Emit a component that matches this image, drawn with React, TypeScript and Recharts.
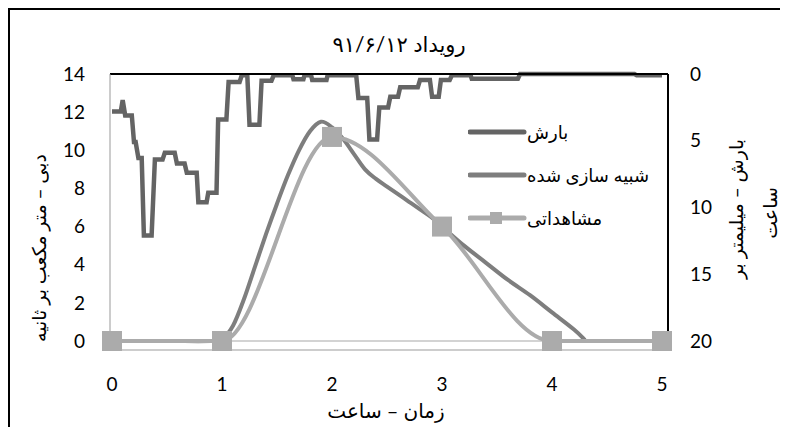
import { LineChart, Line, XAxis, YAxis, ReferenceLine, Legend } from 'recharts'

// بارش (mm/h, right axis, inverted) — [hour, value]
const rainTimes = [
  0, 0.08, 0.097, 0.12, 0.18, 0.2, 0.215, 0.24, 0.27, 0.29, 0.36, 0.39, 0.46, 0.48, 0.57, 0.59, 0.66, 0.68, 0.77,
  0.785, 0.86, 0.875, 0.95, 0.965, 1.04, 1.06, 1.16, 1.18, 1.23, 1.25, 1.34, 1.36, 1.45, 1.47, 1.64, 1.65, 1.74,
  1.75, 1.81, 1.82, 1.95, 1.96, 2.22, 2.24, 2.32, 2.34, 2.41, 2.43, 2.51, 2.53, 2.6, 2.62, 2.78, 2.8, 2.89, 2.91,
  2.97, 2.99, 3.07, 3.09, 3.26, 3.27, 3.69, 3.71, 4.75, 4.77, 5,
]
const rainValues = [
  2.8, 2.8, 1.95, 3.1, 3.1, 5.1, 5.1, 6.3, 6.3, 12.1, 12.1, 6.4, 6.4, 5.9, 5.9, 6.7, 6.7, 7.4, 7.4,
  9.6, 9.6, 8.9, 8.9, 3.4, 3.4, 0.6, 0.6, 0.1, 0.1, 3.8, 3.8, 0.5, 0.5, 0.1, 0.1, 0.4, 0.4,
  0.1, 0.1, 0.45, 0.45, 0.1, 0.1, 1.8, 1.8, 4.9, 4.9, 2.5, 2.5, 1.7, 1.7, 1.0, 1.0, 0.45, 0.45, 1.7,
  1.7, 0.45, 0.45, 0.1, 0.1, 0.35, 0.35, 0, 0, 0.1, 0.1,
]

// شبیه سازی شده (m3/s)
const simTimes = [
  0, 0.5, 0.9, 1.0, 1.1, 1.2, 1.3, 1.4, 1.5, 1.6, 1.7, 1.8, 1.9, 2.0, 2.1, 2.2, 2.3, 2.4, 2.5, 2.6, 2.7, 2.8, 2.9,
  3.0, 3.2, 3.4, 3.6, 3.8, 4.0, 4.2, 4.3, 4.5, 4.85, 5,
]
const simValues = [
  0, 0, 0, 0.1, 0.8, 2.2, 3.9, 5.6, 7.2, 8.7, 10.0, 11.0, 11.5, 11.2, 10.6, 9.8, 9.0, 8.5, 8.1, 7.7, 7.3, 6.9, 6.5,
  6.0, 5.0, 4.1, 3.2, 2.4, 1.5, 0.6, 0.05, null, 0, 0,
]

// مشاهداتی (m3/s)
const obsTimes = [0, 1, 2, 3, 4, 5]
const obsValues = [0, 0, 10.7, 6.0, 0, 0]

const xTicks = [0, 1, 2, 3, 4, 5]
const flowTicks = [0, 2, 4, 6, 8, 10, 12, 14]
const rainTicks = [0, 5, 10, 15, 20]

const rainData = rainTimes.map((t, i) => ({ t, rain: rainValues[i] }))
const simData = simTimes.map((t, i) => ({ t, sim: simValues[i] }))
const obsData = obsTimes.map((t, i) => ({ t, obs: obsValues[i] }))

const RAIN = '#646464'
const SIM = '#7e7e7e'
const OBS = '#ababab'
const FONT = "Lato, 'DejaVu Sans', sans-serif"

// Excel-like smoothed line (uniform Catmull-Rom as bezier)
const smooth = (context: any) => {
  let pts: number[][] = []
  return {
    areaStart() {},
    areaEnd() {},
    lineStart() {
      pts = []
    },
    point(x: number, y: number) {
      pts.push([+x, +y])
    },
    lineEnd() {
      const n = pts.length
      if (!n) return
      context.moveTo(pts[0][0], pts[0][1])
      for (let i = 0; i < n - 1; i++) {
        const p0 = pts[Math.max(i - 1, 0)]
        const p1 = pts[i]
        const p2 = pts[i + 1]
        const p3 = pts[Math.min(i + 2, n - 1)]
        context.bezierCurveTo(
          p1[0] + (p2[0] - p0[0]) / 6,
          p1[1] + (p2[1] - p0[1]) / 6,
          p2[0] - (p3[0] - p1[0]) / 6,
          p2[1] - (p3[1] - p1[1]) / 6,
          p2[0],
          p2[1],
        )
      }
    },
  }
}

const SquareDot = (props: any) => {
  const { cx, cy } = props
  if (cx == null || cy == null) return null
  return <rect x={cx - 10} y={cy - 10} width={20} height={20} fill={OBS} />
}

const legendItems = [
  { name: 'بارش', color: RAIN, marker: false },
  { name: 'شبیه سازی شده', color: SIM, marker: false },
  { name: 'مشاهداتی', color: OBS, marker: true },
]

const ChartLegend = () => (
  <div style={{ fontFamily: FONT, fontSize: 18, textAlign: 'left' }}>
    {legendItems.map((d) => (
      <div key={d.name} style={{ display: 'flex', justifyContent: 'flex-start', alignItems: 'center', height: 43 }}>
        <svg width={59} height={16} style={{ flex: 'none' }}>
          <line x1={2} y1={8} x2={56} y2={8} stroke={d.color} strokeWidth={5} strokeLinecap="round" />
          {d.marker && <rect x={22} y={2} width={12} height={12} fill={d.color} />}
        </svg>
        <span style={{ color: '#000', direction: 'rtl', unicodeBidi: 'isolate' }}>{d.name}</span>
      </div>
    ))}
  </div>
)

export default function App() {
  return (
    <div style={{ position: 'relative', width: 778, height: 417, borderLeft: '2px solid #000', borderTop: '2px solid #000', background: '#fff' }}>
      <div style={{ position: 'absolute', left: 0, top: 21, width: 778, textAlign: 'center', fontFamily: FONT, fontSize: 21, direction: 'rtl' }}>
        {'رویداد ۹۱/۶/۱۲'}
      </div>
      <LineChart width={778} height={417} margin={{ top: 64, right: 60, bottom: 27, left: 40 }}>
        <XAxis
          dataKey="t"
          type="number"
          domain={[0, 5]}
          ticks={xTicks}
          padding={{ left: 2, right: 6 }}
          allowDuplicatedCategory={false}
          height={50}
          tickLine={false}
          tickMargin={22}
          axisLine={{ stroke: '#bdbdbd', strokeWidth: 1.5 }}
          tick={{ fill: '#000', fontSize: 19, fontFamily: FONT }}
          label={{
            content: () => (
              <text x={376} y={400} textAnchor="middle" dominantBaseline="central" fontSize={20} fontFamily={FONT}>
                {'زمان – ساعت'}
              </text>
            ),
          }}
        />
        <YAxis
          yAxisId="flow"
          domain={[0, 14]}
          ticks={flowTicks}
          padding={{ top: 0, bottom: 9 }}
          width={60}
          tickLine={false}
          tickMargin={19}
          axisLine={{ stroke: '#999', strokeWidth: 1 }}
          tick={{ fill: '#000', fontSize: 19, fontFamily: FONT }}
          label={{
            content: () => (
              <text x={28} y={238} transform="rotate(-90 28 238)" textAnchor="middle" dominantBaseline="central" fontSize={19} fontFamily={FONT}>
                {'دبی – متر مکعب بر ثانیه'}
              </text>
            ),
          }}
        />
        <YAxis
          yAxisId="rain"
          orientation="right"
          reversed
          domain={[0, 20]}
          ticks={rainTicks}
          padding={{ top: 0, bottom: 9 }}
          width={60}
          tickLine={false}
          tickMargin={16}
          axisLine={{ stroke: '#000', strokeWidth: 2 }}
          tick={{ fill: '#000', fontSize: 19, fontFamily: FONT }}
          label={{
            content: () => (
              <g fontSize={19} fontFamily={FONT}>
                <text x={725} y={199} transform="rotate(-90 725 199)" textAnchor="middle" dominantBaseline="central">
                  {'بارش – میلیمتر بر'}
                </text>
                <text x={759} y={203} transform="rotate(-90 759 203)" textAnchor="middle" dominantBaseline="central">
                  {'ساعت'}
                </text>
              </g>
            ),
          }}
        />
        <ReferenceLine yAxisId="flow" y={0} stroke="#c4c4c4" strokeWidth={1.5} />
        <Line
          yAxisId="rain"
          data={rainData}
          dataKey="rain"
          name="بارش"
          type="linear"
          stroke={RAIN}
          strokeWidth={4.5}
          dot={false}
          isAnimationActive={false}
        />
        <Line
          yAxisId="flow"
          data={simData}
          dataKey="sim"
          name="شبیه سازی شده"
          type={smooth as any}
          stroke={SIM}
          strokeWidth={4}
          dot={false}
          isAnimationActive={false}
        />
        <Line
          yAxisId="flow"
          data={obsData}
          dataKey="obs"
          name="مشاهداتی"
          type="monotone"
          stroke={OBS}
          strokeWidth={4}
          dot={<SquareDot />}
          isAnimationActive={false}
        />
        <ReferenceLine yAxisId="rain" y={0} stroke="#000" strokeWidth={2} />
        <Legend
          verticalAlign="middle"
          align="center"
          layout="horizontal"
          content={<ChartLegend />}
          wrapperStyle={{ top: 100, left: 458, width: 220, height: 130, textAlign: 'left' }}
        />
      </LineChart>
    </div>
  )
}
